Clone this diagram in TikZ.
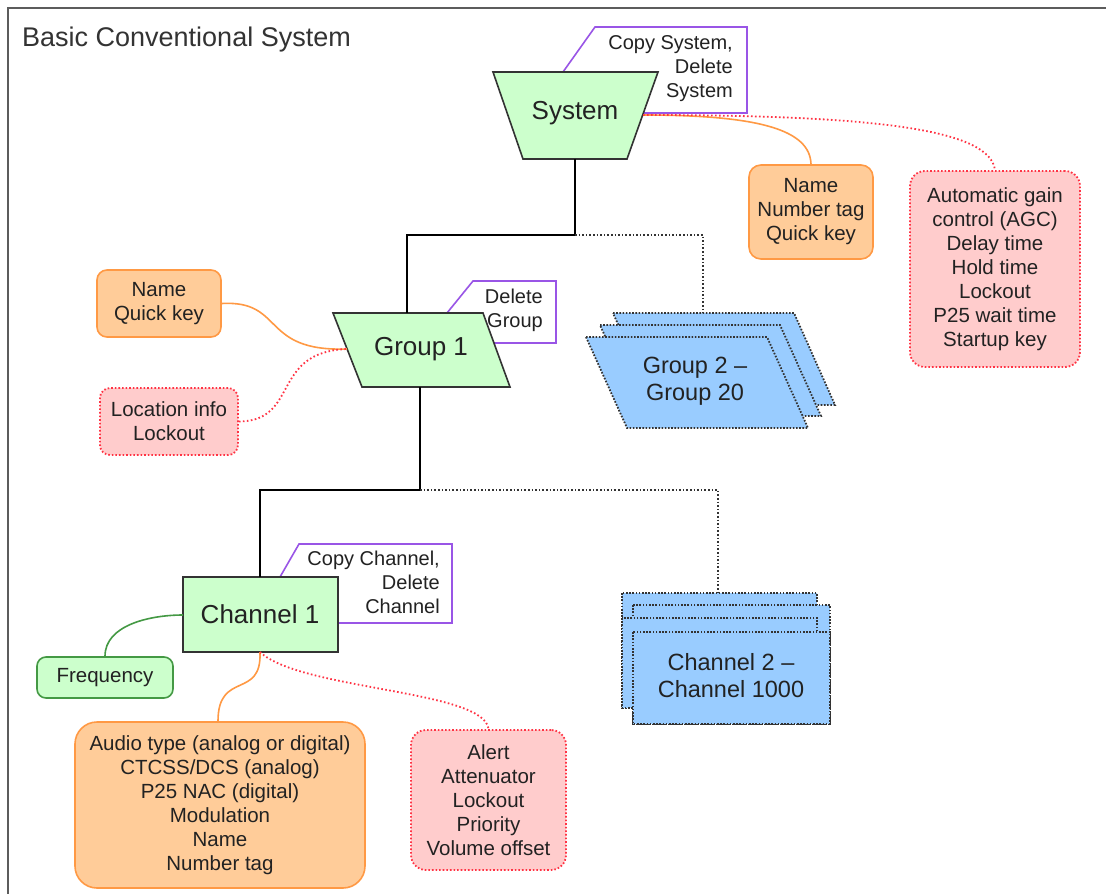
\documentclass[tikz,border=0pt]{standalone}
\usepackage{fontspec}
\setmainfont{Liberation Sans}
\definecolor{gfill}{HTML}{CCFFCC}
\definecolor{gline}{HTML}{449944}
\definecolor{ofill}{HTML}{FFCC99}
\definecolor{oline}{HTML}{FF9944}
\definecolor{pfill}{HTML}{FFCCCC}
\definecolor{pline}{HTML}{FF3344}
\definecolor{bfill}{HTML}{99CCFF}
\definecolor{purp}{HTML}{9955E6}
\definecolor{dk}{HTML}{333333}
\definecolor{txt}{HTML}{222222}
\begin{document}
\begin{tikzpicture}[x=1pt,y=-1pt,
  every node/.style={text=txt, inner sep=0pt},
  bigtxt/.style={font=\fontsize{26}{28}\selectfont},
  midtxt/.style={font=\fontsize{23.5}{27}\selectfont, align=center},
  smalltxt/.style={font=\fontsize{20.5}{24}\selectfont, align=center},
  tagtxt/.style={font=\fontsize{20}{24}\selectfont, align=right, anchor=east},
  mainshape/.style={fill=gfill, draw=dk, line width=1.6pt},
  tagshape/.style={fill=white, draw=purp, line width=1.6pt, line join=miter},
  stackshape/.style={fill=bfill, draw=dk, line width=1.8pt, dash pattern=on 1.6pt off 1.6pt},
  obox/.style={smalltxt, fill=ofill, draw=oline, line width=1.6pt, rounded corners=12pt},
  pbox/.style={smalltxt, fill=pfill, draw=pline, line width=1.8pt, rounded corners=15pt, dash pattern=on 1.6pt off 2pt},
  gbox/.style={smalltxt, fill=gfill, draw=gline, line width=1.6pt, rounded corners=9pt},
  trunk/.style={draw=black, line width=1.5pt},
  trunkdot/.style={draw=dk, line width=1.8pt, dash pattern=on 1.6pt off 2pt},
  olink/.style={draw=oline, line width=1.6pt},
  plink/.style={draw=pline, line width=1.8pt, dash pattern=on 1.6pt off 2.4pt},
  glink/.style={draw=gline, line width=1.6pt}]
\useasboundingbox (0,0) rectangle (1106,894);
\fill[white] (0,0) rectangle (1106,894);
% frame
\draw[draw=dk!80, line width=2pt] (8,894) -- (8,8) -- (1106,8);
\node[font=\fontsize{27}{30}\selectfont, text=dk, anchor=west] (title) at (22,40) {Basic Conventional System};

% ---------- System ----------
\draw[tagshape] (563,72) -- (595,27) -- (747,27) -- (747,113) -- (643,113);
\draw[mainshape] (493,72) -- (658,72) -- (627,159) -- (523,159) -- cycle;
\node[bigtxt] (sys) at (575,113) {System};
\node[tagtxt] (systag) at (733,69) {Copy System,\\Delete\\System};
\coordinate (sysR) at (643,115);
\coordinate (sysB) at (575,159);
\coordinate (trunkA) at (575,235);

% ---------- Group 1 ----------
\draw[tagshape] (447,313) -- (473,281) -- (556,281) -- (556,343) -- (494,343);
\draw[mainshape] (333,313) -- (483,313) -- (510,387) -- (362,387) -- cycle;
\node[bigtxt] (g1) at (421,349) {Group 1};
\node[tagtxt] (g1tag) at (543,310) {Delete\\Group};
\coordinate (g1T) at (407,313);
\coordinate (g1L) at (347,349);
\coordinate (g1B) at (420,387);
\coordinate (trunkB) at (420,490);

% ---------- Group 2 stack ----------
\draw[stackshape] (613,313) -- (794,313) -- (835,405) -- (654,405) -- cycle;
\draw[stackshape] (600,325) -- (780,325) -- (821,416) -- (641,416) -- cycle;
\draw[stackshape] (586,337) -- (767,337) -- (808,428) -- (627,428) -- cycle;
\node[midtxt] (g2) at (695,381) {Group 2 –\\Group 20};
\coordinate (g2T) at (703,313);

% ---------- Channel 1 ----------
\draw[tagshape] (280,577) -- (299,544) -- (452,544) -- (452,623) -- (338,623);
\draw[mainshape] (183,577) rectangle (338,652);
\node[bigtxt] (ch1) at (260,614) {Channel 1};
\node[tagtxt] (ch1tag) at (440,582) {Copy Channel,\\Delete\\Channel};
\coordinate (ch1T) at (260,577);
\coordinate (ch1L) at (183,615);
\coordinate (ch1B) at (260,652);

% ---------- Channel 2 stack ----------
\draw[stackshape] (622,593) rectangle (817,708);
\draw[stackshape] (633,605) rectangle (830,724);
\draw[stackshape] (622,618) rectangle (817,708);
\draw[stackshape] (633,632) rectangle (830,724);
\node[midtxt] (ch2) at (731,676) {Channel 2 –\\Channel 1000};
\coordinate (ch2T) at (718,593);

% ---------- attribute boxes ----------
\node[obox, minimum width=124pt, minimum height=94pt] (sysO) at (811,212) {Name\\Number tag\\Quick key};
\node[pbox, minimum width=170pt, minimum height=196pt] (sysP) at (995,269) {Automatic gain\\control (AGC)\\Delay time\\Hold time\\Lockout\\P25 wait time\\Startup key};
\node[obox, minimum width=124pt, minimum height=67pt, rounded corners=10pt] (g1O) at (159,303.5) {Name\\Quick key};
\node[pbox, minimum width=138pt, minimum height=67pt, rounded corners=10pt] (g1P) at (169,421.5) {Location info\\Lockout};
\node[gbox, minimum width=136pt, minimum height=41pt] (freq) at (105,677.5) {Frequency};
\node[obox, minimum width=290pt, minimum height=166pt, rounded corners=22pt] (chO) at (220,805) {Audio type (analog or digital)\\CTCSS/DCS (analog)\\P25 NAC (digital)\\Modulation\\Name\\Number tag};
\node[pbox, minimum width=155pt, minimum height=140pt] (chP) at (488.5,800) {Alert\\Attenuator\\Lockout\\Priority\\Volume offset};

% ---------- trunk connectors ----------
\draw[trunk] (sysB) -- (trunkA) -| (g1T);
\draw[trunkdot] (trunkA) -| (g2T);
\draw[trunk] (g1B) -- (trunkB) -| (ch1T);
\draw[trunkdot] (trunkB) -| (ch2T);

% ---------- attribute connectors ----------
\draw[olink] (sysR) .. controls (760,115) and (810,130) .. (sysO.north);
\draw[plink] (sysR) .. controls (880,115) and (990,130) .. (sysP.north);
\draw[olink] (g1O.east) .. controls (285,300) and (260,352) .. (g1L);
\draw[plink] (g1P.east) .. controls (300,421) and (270,352) .. (g1L);
\draw[glink] (freq.north) .. controls (105,625) and (150,615) .. (ch1L);
\draw[olink] (ch1B) .. controls (262,700) and (218,670) .. (chO.north -| 218,0);
\draw[plink] (ch1B) .. controls (300,690) and (485,690) .. (chP.north);
\end{tikzpicture}
\end{document}
